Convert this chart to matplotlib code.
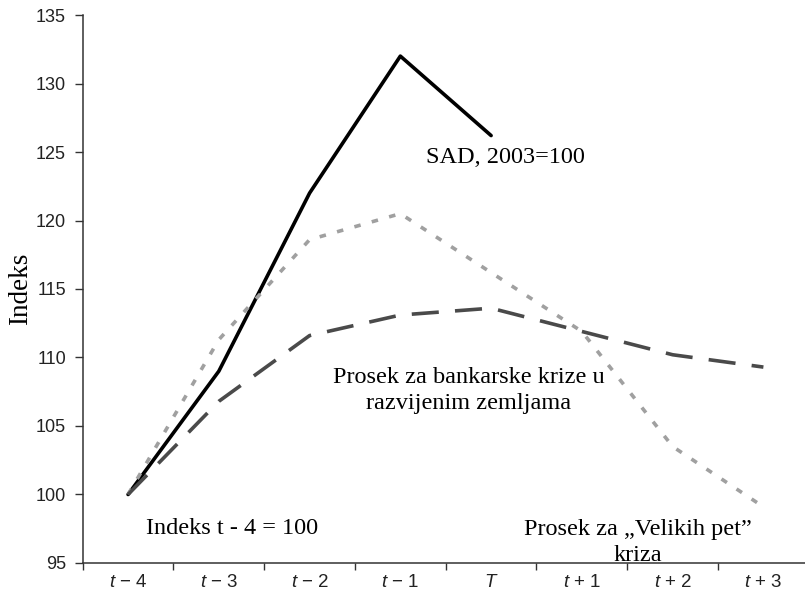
import numpy as np
import matplotlib.pyplot as plt

# periods and index values
periods = ["$t$ \u2212 4", "$t$ \u2212 3", "$t$ \u2212 2", "$t$ \u2212 1", "$T$",
           "$t$ + 1", "$t$ + 2", "$t$ + 3"]
sad = [100, 109, 122, 132, 126.2]
velikih_pet = [100, 111.3, 118.6, 120.5, 116.2, 111.9, 103.5, 99.1]
razvijene = [100, 106.8, 111.6, 113.1, 113.6, 111.9, 110.2, 109.3]
y_ticks = [95, 100, 105, 110, 115, 120, 125, 130, 135]

plt.rcParams['mathtext.fontset'] = 'custom'
plt.rcParams['mathtext.rm'] = 'Liberation Sans'
plt.rcParams['mathtext.it'] = 'Liberation Sans:italic'

serif = 'Liberation Serif'
sans = 'Liberation Sans'

fig = plt.figure(figsize=(8.05, 5.91), dpi=100)
ax = fig.add_axes([0.1027, 0.0474, 0.902, 0.9272])

x = np.arange(len(periods))
ax.plot(x[:len(sad)], sad, color='black', lw=2.6, solid_capstyle='round')
ax.plot(x, velikih_pet, color='#a0a0a0', lw=2.6, linestyle=(0, (1.8, 3.2)))
ax.plot(x, razvijene, color='#4a4a4a', lw=2.6, linestyle=(0, (7.5, 4.5)))

ax.set_xlim(-0.5, len(periods) - 0.5)
ax.set_ylim(95, 135)

# category boundaries carry the tick marks, labels sit in the middle
ax.set_xticks(np.arange(-0.5, len(periods), 1.0))
ax.set_xticklabels([])
ax.set_xticks(x, minor=True)
ax.set_xticklabels(periods, minor=True, fontsize=13.5, family=sans,
                   color='#222222')
ax.tick_params(axis='x', which='minor', length=0, pad=8)
ax.tick_params(axis='x', which='major', length=5, width=1, color='#333333')

ax.set_yticks(y_ticks)
ax.set_yticklabels([str(v) for v in y_ticks], fontsize=13, family=sans,
                   color='#222222')
ax.tick_params(axis='y', length=6, width=1, color='#333333', pad=6)

for s in ['top', 'right']:
    ax.spines[s].set_visible(False)
for s in ['left', 'bottom']:
    ax.spines[s].set_color('#333333')
    ax.spines[s].set_linewidth(1.1)

ax.set_ylabel("Indeks", family=serif, fontsize=19.5)
ax.yaxis.set_label_coords(-0.068, 0.5)

tx = dict(family=serif, fontsize=17.5, color='black')
ax.text(3.28, 124.6, "SAD, 2003=100", ha='left', va='center', **tx)
ax.text(3.75, 107.6, "Prosek za bankarske krize u\nrazvijenim zemljama",
        ha='center', va='center', linespacing=1.3, **tx)
ax.text(5.62, 96.5, "Prosek za \u201eVelikih pet\u201d\nkriza",
        ha='center', va='center', linespacing=1.3, **tx)
ax.text(0.2, 97.5, "Indeks t - 4 = 100", ha='left', va='center', **tx)

fig.savefig("out.png", dpi=100)
